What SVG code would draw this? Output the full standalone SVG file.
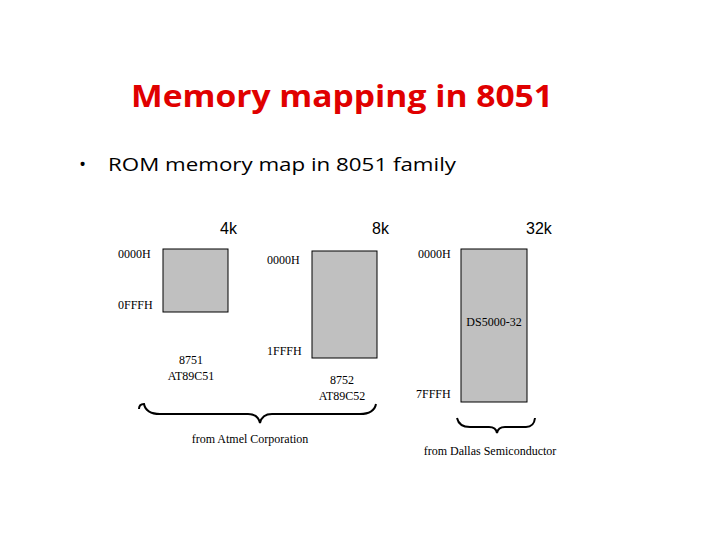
<svg xmlns="http://www.w3.org/2000/svg" width="720" height="540" viewBox="0 0 720 540">
<style>
.t{font-family:"Liberation Serif",serif;font-size:12px;fill:#000}
.k{font-family:"Liberation Sans",sans-serif;font-size:16px;fill:#000}
.box{fill:#c0c0c0;stroke:#000;stroke-width:1}
.br{fill:none;stroke:#000;stroke-width:2}
</style>
<rect width="720" height="540" fill="#fff"/>
<text x="342" y="107" text-anchor="middle" font-family="Open Sans, sans-serif" font-weight="bold" font-size="31" fill="#e00000" textLength="422" lengthAdjust="spacingAndGlyphs">Memory mapping in 8051</text>
<text x="79" y="171" font-family="Open Sans, sans-serif" font-size="19" fill="#000">•</text>
<text x="108" y="171" font-family="Open Sans, sans-serif" font-size="19" fill="#000" textLength="348" lengthAdjust="spacingAndGlyphs">ROM memory map in 8051 family</text>
<text class="k" x="220" y="234">4k</text>
<text class="k" x="372" y="234">8k</text>
<text class="k" x="526" y="234">32k</text>
<g id="rom4k">
<rect class="box" x="163" y="249" width="65" height="63"/>
<text class="t" x="118" y="258">0000H</text>
<text class="t" x="118" y="309">0FFFH</text>
<text class="t" x="191" y="364" text-anchor="middle">8751</text>
<text class="t" x="191" y="380" text-anchor="middle">AT89C51</text>
</g>
<g id="rom8k">
<rect class="box" x="312" y="251" width="65" height="107"/>
<text class="t" x="267" y="264">0000H</text>
<text class="t" x="267" y="355">1FFFH</text>
<text class="t" x="342" y="384" text-anchor="middle">8752</text>
<text class="t" x="342" y="400" text-anchor="middle">AT89C52</text>
</g>
<g id="rom32k">
<rect class="box" x="461" y="249" width="66" height="153"/>
<text class="t" x="418" y="258">0000H</text>
<text class="t" x="494" y="326" text-anchor="middle">DS5000-32</text>
<text class="t" x="416" y="398">7FFFH</text>
</g>
<g id="connectors">
<path class="br" d="M139 409 Q139 404 144 404 Q146 414 160 414 L248 414 Q258 414 260 423 Q262 414 272 414 L360 414 Q374 414 376 404"/>
<path class="br" d="M457 418 Q459 427 470 427 L489 427 Q496 427 497 433 Q498 427 505 427 L526 427 Q534 427 535 418"/>
</g>
<text class="t" x="250" y="443" text-anchor="middle">from Atmel Corporation</text>
<text class="t" x="490" y="455" text-anchor="middle">from Dallas Semiconductor</text>
</svg>
